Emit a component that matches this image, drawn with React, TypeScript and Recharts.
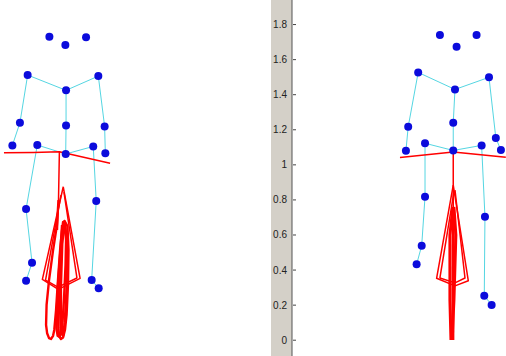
import React from "react";
import { ScatterChart, Scatter, XAxis, YAxis } from "recharts";

type P = { x: number; y: number };

// Y axis ticks (metres)
const yTicks = [0, 0.2, 0.4, 0.6, 0.8, 1, 1.2, 1.4, 1.6, 1.8];
const yTickLabels = ["0", "0.2", "0.4", "0.6", "0.8", "1", "1.2", "1.4", "1.6", "1.8"];

// ---------- Left figure (frame centred on hip centre) ----------
const leftJoints: P[] = [
  { x: -0.093, y: 1.73 }, { x: -0.002, y: 1.683 }, { x: 0.116, y: 1.727 }, // head
  { x: -0.217, y: 1.512 }, { x: 0.186, y: 1.506 }, // shoulders
  { x: 0.002, y: 1.425 }, // neck
  { x: -0.261, y: 1.24 }, { x: 0.002, y: 1.225 }, { x: 0.222, y: 1.219 }, // elbows, spine
  { x: -0.304, y: 1.111 }, { x: 0.226, y: 1.066 }, // wrists
  { x: -0.162, y: 1.113 }, { x: 0.0, y: 1.062 }, { x: 0.157, y: 1.105 }, // hips
  { x: -0.226, y: 0.748 }, { x: 0.174, y: 0.794 }, // knees
  { x: -0.192, y: 0.442 }, { x: 0.148, y: 0.343 }, // ankles
  { x: -0.226, y: 0.339 }, { x: 0.188, y: 0.296 }, // feet
];
const leftShoulderLine: P[] = [{ x: -0.217, y: 1.512 }, { x: 0.002, y: 1.425 }, { x: 0.186, y: 1.506 }];
const leftSpine: P[] = [{ x: 0.002, y: 1.425 }, { x: 0.002, y: 1.225 }, { x: 0.0, y: 1.062 }];
const leftArmL: P[] = [{ x: -0.217, y: 1.512 }, { x: -0.261, y: 1.24 }, { x: -0.304, y: 1.111 }];
const leftArmR: P[] = [{ x: 0.186, y: 1.506 }, { x: 0.222, y: 1.219 }, { x: 0.226, y: 1.066 }];
const leftHips: P[] = [{ x: -0.162, y: 1.113 }, { x: 0.0, y: 1.062 }, { x: 0.157, y: 1.105 }];
const leftLegL: P[] = [{ x: -0.162, y: 1.113 }, { x: -0.226, y: 0.748 }, { x: -0.192, y: 0.442 }, { x: -0.226, y: 0.339 }];
const leftLegR: P[] = [{ x: 0.157, y: 1.105 }, { x: 0.174, y: 0.794 }, { x: 0.148, y: 0.343 }, { x: 0.188, y: 0.296 }];

const leftRedBar: P[] = [{ x: -0.352, y: 1.069 }, { x: -0.185, y: 1.071 }, { x: -0.036, y: 1.075 }, { x: 0.253, y: 1.009 }];
const leftRedStem: P[] = [{ x: -0.036, y: 1.075 }, { x: -0.041, y: 0.799 }, { x: -0.047, y: 0.628 }];
const leftArrowOuter: P[] = [
  { x: -0.014, y: 0.875 }, { x: -0.133, y: 0.347 }, { x: -0.042, y: 0.29 }, { x: 0.082, y: 0.353 }, { x: -0.014, y: 0.875 },
];
const leftArrowInner: P[] = [
  { x: -0.027, y: 0.828 }, { x: -0.115, y: 0.343 }, { x: -0.044, y: 0.303 }, { x: 0.064, y: 0.355 }, { x: -0.01, y: 0.845 },
];
const leftLoopA: P[] = [
  { x: -0.041, y: 0.799 }, { x: -0.05, y: 0.657 }, { x: -0.072, y: 0.514 }, { x: -0.095, y: 0.343 },
  { x: -0.109, y: 0.201 }, { x: -0.112, y: 0.087 }, { x: -0.106, y: 0.04 }, { x: -0.095, y: 0.012 },
  { x: -0.084, y: 0.007 }, { x: -0.072, y: 0.025 },
  { x: -0.065, y: 0.06 }, { x: -0.055, y: 0.172 }, { x: -0.044, y: 0.343 }, { x: -0.032, y: 0.514 },
  { x: -0.021, y: 0.628 }, { x: -0.007, y: 0.68 }, { x: 0.01, y: 0.651 }, { x: 0.016, y: 0.514 },
  { x: 0.013, y: 0.315 }, { x: 0.005, y: 0.144 }, { x: -0.004, y: 0.06 }, { x: -0.015, y: 0.015 },
  { x: -0.027, y: 0.007 }, { x: -0.037, y: 0.022 },
  { x: -0.042, y: 0.07 }, { x: -0.044, y: 0.201 }, { x: -0.035, y: 0.4 }, { x: -0.027, y: 0.543 },
  { x: -0.015, y: 0.64 },
];
const leftLoopB: P[] = [
  { x: -0.021, y: 0.657 }, { x: -0.03, y: 0.514 }, { x: -0.044, y: 0.315 }, { x: -0.052, y: 0.144 },
  { x: -0.053, y: 0.07 }, { x: -0.046, y: 0.025 }, { x: -0.035, y: 0.018 }, { x: -0.025, y: 0.04 },
  { x: -0.019, y: 0.09 }, { x: -0.01, y: 0.229 },
  { x: -0.001, y: 0.429 }, { x: 0.002, y: 0.571 }, { x: -0.004, y: 0.657 }, { x: -0.015, y: 0.674 },
  { x: -0.024, y: 0.6 }, { x: -0.03, y: 0.4 }, { x: -0.032, y: 0.172 }, { x: -0.027, y: 0.03 },
];
const leftLoopC: P[] = [
  { x: -0.007, y: 0.68 }, { x: 0.008, y: 0.55 }, { x: 0.006, y: 0.3 }, { x: -0.005, y: 0.1 },
  { x: -0.015, y: 0.025 }, { x: -0.025, y: 0.05 }, { x: -0.028, y: 0.3 }, { x: -0.02, y: 0.55 },
  { x: -0.007, y: 0.68 },
];

// ---------- Right figure (frame centred on hip centre) ----------
const rightJoints: P[] = [
  { x: -0.076, y: 1.74 }, { x: 0.019, y: 1.673 }, { x: 0.133, y: 1.74 }, // head
  { x: -0.2, y: 1.527 }, { x: 0.204, y: 1.499 }, // shoulders
  { x: 0.01, y: 1.43 }, // neck
  { x: -0.257, y: 1.217 }, { x: 0.0, y: 1.24 }, { x: 0.243, y: 1.153 }, // elbows, spine
  { x: -0.27, y: 1.08 }, { x: 0.272, y: 1.084 }, // wrists
  { x: -0.161, y: 1.123 }, { x: 0.0, y: 1.082 }, { x: 0.162, y: 1.111 }, // hips
  { x: -0.161, y: 0.818 }, { x: 0.181, y: 0.704 }, // knees
  { x: -0.18, y: 0.539 }, { x: 0.177, y: 0.254 }, // ankles
  { x: -0.209, y: 0.433 }, { x: 0.219, y: 0.201 }, // feet
];
const rightShoulderLine: P[] = [{ x: -0.2, y: 1.527 }, { x: 0.01, y: 1.43 }, { x: 0.204, y: 1.499 }];
const rightSpine: P[] = [{ x: 0.01, y: 1.43 }, { x: 0.0, y: 1.24 }, { x: 0.0, y: 1.082 }];
const rightArmL: P[] = [{ x: -0.2, y: 1.527 }, { x: -0.257, y: 1.217 }, { x: -0.27, y: 1.08 }];
const rightArmR: P[] = [{ x: 0.204, y: 1.499 }, { x: 0.243, y: 1.153 }, { x: 0.272, y: 1.084 }];
const rightHips: P[] = [{ x: -0.161, y: 1.123 }, { x: 0.0, y: 1.082 }, { x: 0.162, y: 1.111 }];
const rightLegL: P[] = [{ x: -0.161, y: 1.123 }, { x: -0.161, y: 0.818 }, { x: -0.18, y: 0.539 }, { x: -0.209, y: 0.433 }];
const rightLegR: P[] = [{ x: 0.162, y: 1.111 }, { x: 0.181, y: 0.704 }, { x: 0.177, y: 0.254 }, { x: 0.219, y: 0.201 }];

const rightRedBar: P[] = [{ x: -0.304, y: 1.042 }, { x: 0.0, y: 1.073 }, { x: 0.3, y: 1.044 }];
const rightRedStem: P[] = [{ x: 0.0, y: 1.073 }, { x: 0.0, y: 0.873 }, { x: 0.0, y: 0.7 }];
const rightArrowOuter: P[] = [
  { x: 0.0, y: 0.885 }, { x: -0.095, y: 0.353 }, { x: 0.01, y: 0.31 }, { x: 0.086, y: 0.339 }, { x: 0.0, y: 0.885 },
];
const rightArrowInner: P[] = [
  { x: 0.004, y: 0.845 }, { x: -0.076, y: 0.355 }, { x: 0.01, y: 0.327 }, { x: 0.067, y: 0.355 }, { x: 0.01, y: 0.856 },
];
const rightThickA: P[] = [{ x: -0.002, y: 0.76 }, { x: -0.019, y: 0.6 }, { x: -0.019, y: 0.229 }, { x: -0.013, y: 0.001 }];
const rightThickB: P[] = [{ x: 0.004, y: 0.76 }, { x: 0.015, y: 0.6 }, { x: 0.004, y: 0.229 }, { x: -0.007, y: 0.001 }];
const rightThickC: P[] = [{ x: 0.0, y: 0.72 }, { x: -0.002, y: 0.001 }];

const CYAN = "#55d6e2";
const RED = "#ff0000";
const BLUE = "#0b0bdc";
const Y_DOMAIN: [number, number] = [-0.09, 1.94];

const NoShape = () => <g />;
const Dot = (props: any) => <circle cx={props.cx} cy={props.cy} r={4} fill={BLUE} />;

const lineSeries = (data: P[], color: string, width: number, key: string) => (
  <Scatter
    key={key}
    data={data}
    shape={NoShape}
    line={{ stroke: color, strokeWidth: width, strokeLinejoin: "round" }}
    stroke={color}
    isAnimationActive={false}
  />
);

const AxisTick = (props: any) => {
  const { x, y, payload } = props;
  const idx = yTicks.indexOf(payload.value);
  const label = idx >= 0 ? yTickLabels[idx] : String(payload.value);
  return (
    <g>
      <text
        x={x - 5}
        y={y}
        textAnchor="end"
        dominantBaseline="central"
        fontSize={10}
        fontFamily="'Liberation Sans', Arial, sans-serif"
        fill="#222"
      >
        {label}
      </text>
      <line x1={x + 1} x2={x + 4} y1={y} y2={y} stroke="#444" strokeWidth={1} />
    </g>
  );
};

export default function App() {
  return (
    <div style={{ position: "absolute", left: 0, top: 0, width: 506, height: 356, background: "#ffffff", overflow: "hidden" }}>
      <div style={{ position: "absolute", left: 271, top: 0, width: 21, height: 356, background: "#d4d0c8" }} />
      <div style={{ position: "absolute", left: 0, top: 0 }}>
        <ScatterChart width={271} height={356} margin={{ top: 0, right: 0, bottom: 0, left: 0 }}>
          <XAxis type="number" dataKey="x" domain={[-0.3746, 1.1705]} hide allowDataOverflow />
          <YAxis type="number" dataKey="y" domain={Y_DOMAIN} hide allowDataOverflow />
          {lineSeries(leftShoulderLine, CYAN, 1, "ls")}
          {lineSeries(leftSpine, CYAN, 1, "lsp")}
          {lineSeries(leftArmL, CYAN, 1, "lal")}
          {lineSeries(leftArmR, CYAN, 1, "lar")}
          {lineSeries(leftHips, CYAN, 1, "lh")}
          {lineSeries(leftLegL, CYAN, 1, "lll")}
          {lineSeries(leftLegR, CYAN, 1, "llr")}
          {lineSeries(leftRedBar, RED, 1.5, "lrb")}
          {lineSeries(leftRedStem, RED, 1.5, "lrs")}
          {lineSeries(leftArrowOuter, RED, 1.5, "lao")}
          {lineSeries(leftArrowInner, RED, 1.5, "lai")}
          {lineSeries(leftLoopA, RED, 2.4, "lla")}
          {lineSeries(leftLoopB, RED, 2.4, "llb")}
          {lineSeries(leftLoopC, RED, 2.6, "llc")}
          <Scatter data={leftJoints} shape={Dot} fill={BLUE} isAnimationActive={false} />
        </ScatterChart>
      </div>
      <div style={{ position: "absolute", left: 272, top: 0 }}>
        <ScatterChart width={234} height={356} margin={{ top: 0, right: 0, bottom: 0, left: 0 }}>
          <XAxis type="number" dataKey="x" domain={[-0.92, 0.301]} hide allowDataOverflow />
          <YAxis
            type="number"
            dataKey="y"
            domain={Y_DOMAIN}
            allowDataOverflow
            width={20}
            ticks={yTicks}
            interval={0}
            tick={AxisTick}
            tickLine={false}
            tickSize={0}
            tickMargin={0}
            axisLine={{ stroke: "#555", strokeWidth: 1 }}
          />
          {lineSeries(rightShoulderLine, CYAN, 1, "rs")}
          {lineSeries(rightSpine, CYAN, 1, "rsp")}
          {lineSeries(rightArmL, CYAN, 1, "ral")}
          {lineSeries(rightArmR, CYAN, 1, "rar")}
          {lineSeries(rightHips, CYAN, 1, "rh")}
          {lineSeries(rightLegL, CYAN, 1, "rll")}
          {lineSeries(rightLegR, CYAN, 1, "rlr")}
          {lineSeries(rightRedBar, RED, 1.5, "rrb")}
          {lineSeries(rightRedStem, RED, 1.5, "rrs")}
          {lineSeries(rightArrowOuter, RED, 1.5, "rao")}
          {lineSeries(rightArrowInner, RED, 1.5, "rai")}
          {lineSeries(rightThickA, RED, 3, "rta")}
          {lineSeries(rightThickB, RED, 3, "rtb")}
          {lineSeries(rightThickC, RED, 3, "rtc")}
          <Scatter data={rightJoints} shape={Dot} fill={BLUE} isAnimationActive={false} />
        </ScatterChart>
      </div>
    </div>
  );
}
